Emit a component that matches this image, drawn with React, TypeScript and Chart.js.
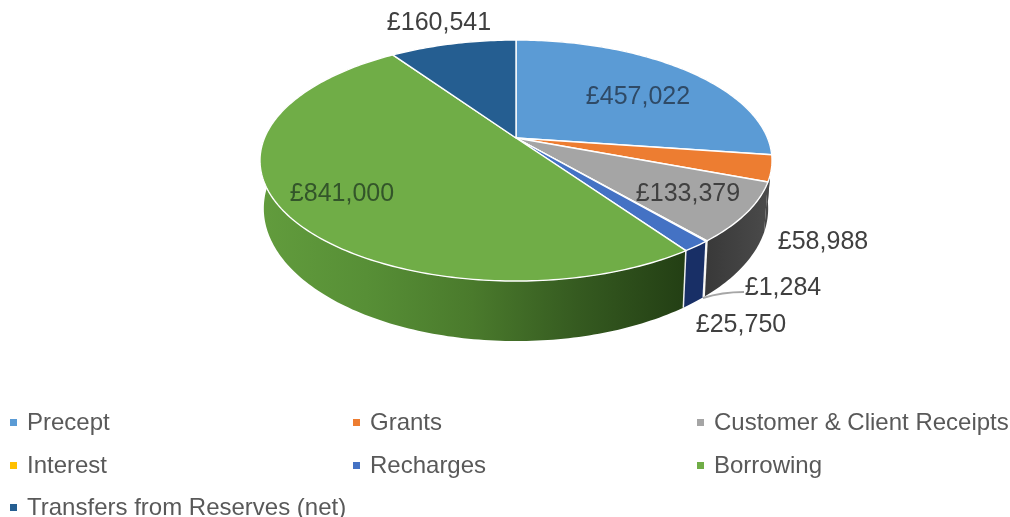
import React, { useEffect, useRef } from "react";
import { Chart, registerables } from "chart.js";

Chart.register(...registerables);

const categories = ["Precept", "Grants", "Customer & Client Receipts", "Interest", "Recharges", "Borrowing", "Transfers from Reserves (net)"];
const amounts = [457022, 58988, 133379, 1284, 25750, 841000, 160541];
const topColors = ["#5B9BD5", "#ED7D31", "#A5A5A5", "#FFC000", "#4472C4", "#70AD47", "#255E91"];
const sideColors = ["#484848", "#484848", "#404040", "#b28600", "#182f66", "#4d7c2e", "#1a4165"];

// label centres, in canvas pixels
const labelCentres: [number, number][] = [[638, 97], [823, 242], [688, 194], [783, 288], [741, 325], [342, 194], [439, 23]];
// legend cell origins, in canvas pixels
const legendCells: [number, number][] = [[10, 423], [353, 423], [697, 423], [10, 466], [353, 466], [697, 466], [10, 508]];

const FONT = '"Liberation Sans", Arial, sans-serif';
const CX = 516, APEX = 138, K = 251.5, A = 116.3, C = -0.187;
const BX = 0.985, BY = 1.1, DROP = 45.7;

const top = (a: number): [number, number] => {
  const u = Math.cos(a), v = Math.sin(a), w = 1 + C * v;
  return [CX + (K * u) / w, APEX + (A * v) / w];
};
const bottom = (a: number): [number, number] => {
  const u = Math.cos(a), v = Math.sin(a), w = 1 + C * v;
  return [CX + (BX * K * u) / w, APEX + DROP + (BY * A * v) / w];
};
const arcPoints = (fn: (a: number) => [number, number], s: number, e: number) => {
  const n = Math.max(2, Math.ceil(((e - s) * 180) / Math.PI));
  const pts: [number, number][] = [];
  for (let i = 0; i <= n; i++) pts.push(fn(s + ((e - s) * i) / n));
  return pts;
};

const pie3d = {
  id: "pie3d",
  beforeDatasetsDraw(chart: any) {
    const ctx: CanvasRenderingContext2D = chart.ctx;
    const arcs = chart.getDatasetMeta(0).data;
    ctx.save();
    ctx.lineJoin = "round";

    // side walls
    arcs.forEach((arc: any, i: number) => {
      const t = arcPoints(top, arc.startAngle, arc.endAngle);
      const b = arcPoints(bottom, arc.startAngle, arc.endAngle).reverse();
      ctx.beginPath();
      [...t, ...b].forEach((p, j) => (j ? ctx.lineTo(p[0], p[1]) : ctx.moveTo(p[0], p[1])));
      ctx.closePath();
      let fill: any = sideColors[i];
      if (i === 5) {
        const g = ctx.createLinearGradient(260, 0, 685, 0);
        g.addColorStop(0, "#629c3d");
        g.addColorStop(0.25, "#578f36");
        g.addColorStop(0.5, "#4a7a2c");
        g.addColorStop(0.75, "#355a20");
        g.addColorStop(1, "#233f14");
        fill = g;
      } else if (i === 2) {
        const g = ctx.createLinearGradient(703, 0, 768, 0);
        g.addColorStop(0, "#383838");
        g.addColorStop(1, "#4a4a4a");
        fill = g;
      }
      ctx.fillStyle = fill;
      ctx.fill();
    });

    // seams between front walls
    ctx.strokeStyle = "rgba(255,255,255,0.9)";
    ctx.lineWidth = 1.5;
    arcs.forEach((arc: any) => {
      const d = arc.startAngle;
      if (d > Math.PI * 0.2 && d < Math.PI * 0.9) {
        const p = top(d), q = bottom(d);
        ctx.beginPath();
        ctx.moveTo(p[0], p[1]);
        ctx.lineTo(q[0], q[1]);
        ctx.stroke();
      }
    });

    // top faces
    arcs.forEach((arc: any, i: number) => {
      const pts = arcPoints(top, arc.startAngle, arc.endAngle);
      ctx.beginPath();
      ctx.moveTo(CX, APEX);
      pts.forEach((p) => ctx.lineTo(p[0], p[1]));
      ctx.closePath();
      ctx.fillStyle = topColors[i];
      ctx.fill();
      ctx.strokeStyle = "#ffffff";
      ctx.lineWidth = 1.4;
      ctx.stroke();
    });

    // leader line for the smallest slice
    ctx.strokeStyle = "#a6a6a6";
    ctx.lineWidth = 2;
    ctx.beginPath();
    ctx.moveTo(703, 298);
    ctx.quadraticCurveTo(722, 292, 744, 292);
    ctx.stroke();

    // value labels
    ctx.font = `25px ${FONT}`;
    ctx.textAlign = "center";
    ctx.textBaseline = "middle";
    amounts.forEach((val, i) => {
      const [x, y] = labelCentres[i];
      ctx.fillStyle = i === 5 ? "#33552a" : i === 0 ? "#2f4a66" : "#404040";
      ctx.fillText("£" + val.toLocaleString("en-GB"), x, y);
    });

    // legend
    ctx.font = `24px ${FONT}`;
    ctx.textAlign = "left";
    categories.forEach((name, i) => {
      const [x, y] = legendCells[i];
      ctx.fillStyle = topColors[i];
      ctx.fillRect(x, y - 4, 7, 7);
      ctx.fillStyle = "#595959";
      ctx.fillText(name, x + 17, y);
    });

    ctx.restore();
    return false;
  },
};

export default function App() {
  const ref = useRef<HTMLCanvasElement>(null);
  useEffect(() => {
    const chart = new Chart(ref.current!, {
      type: "pie",
      data: {
        labels: categories,
        datasets: [{ data: amounts, backgroundColor: topColors, borderWidth: 0 }],
      },
      options: {
        responsive: false,
        animation: false,
        devicePixelRatio: 1,
        plugins: { legend: { display: false }, tooltip: { enabled: false } },
      },
      plugins: [pie3d],
    } as any);
    return () => chart.destroy();
  }, []);
  return (
    <canvas
      ref={ref}
      width={1010}
      height={517}
      style={{ position: "absolute", left: 0, top: 0, display: "block", width: 1010, height: 517 }}
    />
  );
}
